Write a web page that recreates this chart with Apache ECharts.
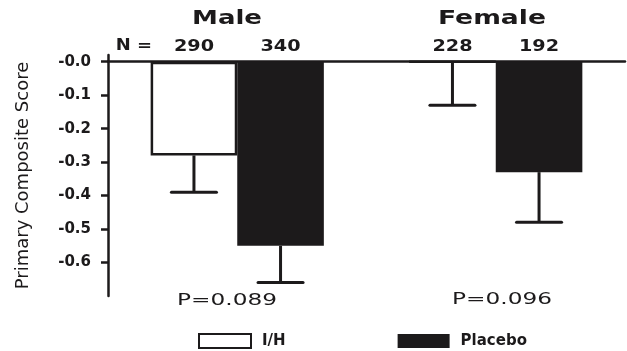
<!DOCTYPE html>
<html><head><meta charset="utf-8">
<script src="https://cdn.jsdelivr.net/npm/echarts@6/dist/echarts.min.js"></script>
<style>html,body{margin:0;padding:0;background:#fff}#c{width:627px;height:351px}</style>
</head><body><div id="c"></div>
<script>
// ---- data ----
const categories = ['Male', 'Female'];
const seriesNames = ['I/H', 'Placebo'];
const ihValues = [-0.28, 0.0];
const placeboValues = [-0.55, -0.33];
const ihErrEnd = [-0.39, -0.13];
const placeboErrEnd = [-0.66, -0.48];
const ihN = ['290', '228'];
const placeboN = ['340', '192'];
const pValues = ['P=0.089', 'P=0.096'];
const yTicks = [0, -0.1, -0.2, -0.3, -0.4, -0.5, -0.6];

const INK = '#1c1a1b';
const FONT = 'DejaVu Sans';
const CAT_GAP = 0.33;

function errSeries(name, vals, ends, nLabels, side) {
  return {
    type: 'custom', name: name + ' err', z: 5, silent: true,
    data: categories.map((c, i) => [i, vals[i], ends[i]]),
    encode: { x: 0, y: [1, 2] },
    renderItem(params, api) {
      const i = api.value(0);
      const band = api.size([1, 0])[0];
      const barW = band * (1 - CAT_GAP) / 2;
      const cx = api.coord([i, 0])[0] + side * barW / 2;
      const y0 = api.coord([i, 0])[1];
      const yTop = api.coord([i, api.value(1)])[1];
      const yEnd = api.coord([i, api.value(2)])[1];
      const cap = barW * 0.52;
      return {
        type: 'group', children: [
          { type: 'line', shape: { x1: cx, y1: yTop, x2: cx, y2: yEnd }, style: { stroke: INK, lineWidth: 3 } },
          { type: 'line', shape: { x1: cx - cap / 2, y1: yEnd, x2: cx + cap / 2, y2: yEnd }, style: { stroke: INK, lineWidth: 3, lineCap: 'round' } },
          { type: 'text', x: cx, y: y0 - 15, scaleX: 1.2,
            style: { text: nLabels[i], font: 'bold 16px "DejaVu Sans"', fill: INK,
              textAlign: 'center', textVerticalAlign: 'middle', align: 'center', verticalAlign: 'middle' } }
        ]
      };
    }
  };
}

const chart = echarts.init(document.getElementById('c'), null, { renderer: 'canvas' });
const textEl = (txt, x, y, font, sx) => ({
  type: 'text', x: x, y: y, scaleX: sx, silent: true,
  style: { text: txt, font: font, fill: INK, textAlign: 'center', textVerticalAlign: 'middle', align: 'center', verticalAlign: 'middle' }
});

chart.setOption({
  animation: false,
  backgroundColor: '#fff',
  grid: { left: 108, right: 2, top: 55, bottom: 55, containLabel: false, outerBoundsMode: 'none' },
  legend: {
    data: seriesNames, left: 198, top: 333, padding: 0, itemWidth: 52, itemHeight: 14, itemGap: 112, icon: 'rect',
    textStyle: { fontFamily: FONT, fontWeight: 'bold', fontSize: 15, color: INK, padding: [0, 0, 0, 6] }
  },
  xAxis: {
    type: 'category', data: categories, position: 'top',
    axisLine: { show: true, onZero: true, lineStyle: { color: INK, width: 2.5 } },
    axisTick: { show: false }, axisLabel: { show: false }, splitLine: { show: false }
  },
  yAxis: {
    type: 'value', min: -0.7, max: 0.02, interval: 0.1,
    axisLine: { show: true, lineStyle: { color: INK, width: 2.5 } },
    axisTick: { show: true, customValues: yTicks, length: 7, lineStyle: { color: INK, width: 2.5 } },
    axisLabel: { customValues: yTicks, formatter: v => (v < -0.65 || v > 0.001) ? '' : '-' + Math.abs(v).toFixed(1),
      fontFamily: FONT, fontWeight: 'bold', fontSize: 15, color: INK, margin: 17 },
    splitLine: { show: false },
    name: 'Primary Composite Score', nameLocation: 'middle', nameRotate: 90, nameGap: 76,
    nameTextStyle: { fontFamily: FONT, fontSize: 18, color: INK }
  },
  series: [
    { type: 'bar', name: seriesNames[0], data: ihValues, barGap: '0%', barCategoryGap: (CAT_GAP * 100) + '%',
      itemStyle: { color: '#ffffff', borderColor: INK, borderWidth: 2.5 } },
    { type: 'bar', name: seriesNames[1], data: placeboValues, barGap: '0%', barCategoryGap: (CAT_GAP * 100) + '%',
      itemStyle: { color: INK, borderColor: INK, borderWidth: 0 } },
    errSeries(seriesNames[0], ihValues, ihErrEnd, ihN, -1),
    errSeries(seriesNames[1], placeboValues, placeboErrEnd, placeboN, 1)
  ],
  graphic: [
    textEl(categories[0], 227, 19, 'bold 20px "DejaVu Sans"', 1.3),
    textEl(categories[1], 492, 19, 'bold 20px "DejaVu Sans"', 1.33),
    textEl('N =', 134, 46, 'bold 16px "DejaVu Sans"', 1.12),
    textEl(pValues[0], 227, 301, '16px "DejaVu Sans"', 1.45),
    textEl(pValues[1], 502, 300, '16px "DejaVu Sans"', 1.45)
  ]
});
</script></body></html>
